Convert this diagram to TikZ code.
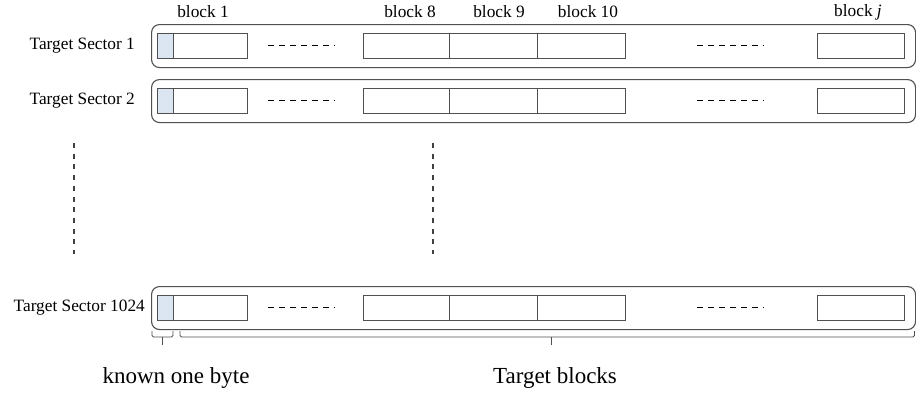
\documentclass[tikz,border=0pt]{standalone}
\usepackage{fontspec}
\setmainfont{Liberation Serif}
\definecolor{byteblue}{RGB}{220,230,242}
\definecolor{linegray}{RGB}{80,80,80}
\begin{document}
\begin{tikzpicture}[x=1pt,y=-1pt,
 sector/.style={draw=linegray, line width=1.1pt, rounded corners=8pt, minimum width=764pt, minimum height=43pt, inner sep=0pt, anchor=north west},
 blk/.style={draw=linegray, line width=0.9pt, fill=white, minimum height=25pt, inner sep=0pt, anchor=west},
 knownbyte/.style={blk, fill=byteblue, minimum width=16pt},
 lbl/.style={font=\fontsize{17.3}{20}\selectfont, inner sep=0pt},
 biglbl/.style={font=\fontsize{23}{26}\selectfont, inner sep=0pt},
 hdots/.style={line width=1.6pt, dash pattern=on 6pt off 5pt},
 vdots/.style={draw=black!75, line width=1.6pt, dash pattern=on 5pt off 5.7pt},
 bracket/.style={draw=linegray, line width=0.9pt, rounded corners=1.5pt}
]
\useasboundingbox (0,0) rectangle (916,394);

% block labels
\node[lbl] (h1) at (203,12) {block 1};
\node[lbl] (h8) at (410,12) {block 8};
\node[lbl] (h9) at (499,12) {block 9};
\node[lbl] (h10) at (588,12) {block 10};
\node[lbl] (hj) at (858,12) {block \textit{j}};

\foreach \r/\y/\t/\lx in {1/24/1/135, 2/79/2/135, 3/286/1024/145} {
  \node[sector] (s\r) at (151,\y) {};
  \node[lbl, anchor=east] (l\r) at (\lx,\y+22) {Target Sector \t};
  \node[blk, minimum width=74pt] (a\r) at (173,\y+21.5) {};
  \node[knownbyte] (k\r) at (157,\y+21.5) {};
  \node[blk, minimum width=86pt] (b8\r) at (363,\y+21.5) {};
  \node[blk, minimum width=88pt] (b9\r) at (449,\y+21.5) {};
  \node[blk, minimum width=88pt] (b10\r) at (537,\y+21.5) {};
  \node[blk, minimum width=87pt] (bj\r) at (817,\y+21.5) {};
  \draw[hdots] (268,\y+21.5) -- (334.6,\y+21.5);
  \draw[hdots] (697,\y+21.5) -- (763.6,\y+21.5);
}

% vertical continuation dashes
\draw[vdots] (74,143) -- (74,254);
\draw[vdots] (433,143) -- (433,254);

% brackets
\draw[bracket] (152,331) -- (152,337) -- (173,337) -- (173,331);
\draw[bracket] (162.5,337) -- (162.5,345);
\draw[bracket] (180,331) -- (180,337) -- (914.5,337) -- (914.5,331);
\draw[bracket] (551,337) -- (551,345);

\node[biglbl] (known) at (176,378) {known one byte};
\node[biglbl] (target) at (555,378) {Target blocks};
\end{tikzpicture}
\end{document}
